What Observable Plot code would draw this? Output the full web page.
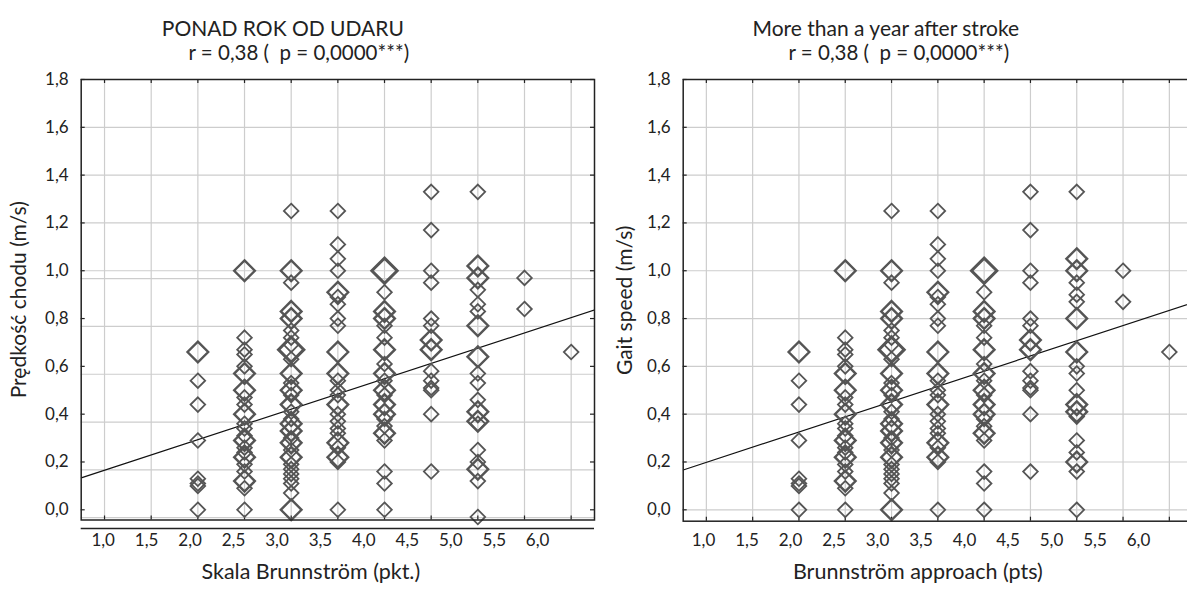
<!DOCTYPE html>
<html>
<head>
<meta charset="utf-8">
<script src="https://cdn.jsdelivr.net/npm/d3@7"></script>
<script src="https://cdn.jsdelivr.net/npm/@observablehq/plot@0.6"></script>
<style>
  html, body { margin: 0; padding: 0; background: #fff; overflow: hidden; }
  #wrap { position: relative; width: 1187px; height: 594px; overflow: hidden; background: #fff; }
  .layer { position: absolute; top: 0; }
</style>
</head>
<body>
<div id="wrap"></div>
<script>
// ---------------- data ----------------
const xTickValues = [1.0, 1.5, 2.0, 2.5, 3.0, 3.5, 4.0, 4.5, 5.0, 5.5, 6.0];
const xTickLabels = ["1,0", "1,5", "2,0", "2,5", "3,0", "3,5", "4,0", "4,5", "5,0", "5,5", "6,0"];
const yTickValues = [0.0, 0.2, 0.4, 0.6, 0.8, 1.0, 1.2, 1.4, 1.6, 1.8];
const yTickLabels = ["0,0", "0,2", "0,4", "0,6", "0,8", "1,0", "1,2", "1,4", "1,6", "1,8"];
const leftGridY = [1.6, 1.4, 1.2, 1.0, 0.967, 0.767, 0.567, 0.367, 0.167, -0.033];
const rightGridY = [1.6, 1.4, 1.2, 1.0, 0.8, 0.6, 0.4, 0.2, 0.0];

const columnX = [2.0, 2.5, 3.0, 3.5, 4.0, 4.5, 5.0, 5.5, 6.0];

// gait speed (m/s) per Brunnström column; repeated values = overlapping patients
const col20 = [0.66, 0.66, 0.54, 0.44, 0.29, 0.13, 0.11, 0.10, 0.0];
const col25 = [1.0, 1.0, 0.72, 0.67, 0.65, 0.60, 0.57, 0.57, 0.50, 0.50, 0.47, 0.44, 0.40, 0.40, 0.36, 0.34, 0.31, 0.29, 0.29, 0.26, 0.24, 0.22, 0.22, 0.19, 0.16, 0.12, 0.12, 0.09, 0.0];
const col30 = [1.25, 1.0, 1.0, 0.95, 0.83, 0.83, 0.80, 0.80, 0.75, 0.72, 0.69, 0.67, 0.67, 0.67, 0.63, 0.57, 0.57, 0.53, 0.50, 0.50, 0.48, 0.44, 0.44, 0.41, 0.38, 0.36, 0.36, 0.33, 0.33, 0.30, 0.28, 0.28, 0.25, 0.22, 0.22, 0.19, 0.17, 0.15, 0.13, 0.11, 0.07, 0.0, 0.0];
const col35 = [1.25, 1.11, 1.05, 1.0, 0.91, 0.91, 0.89, 0.86, 0.80, 0.77, 0.66, 0.66, 0.57, 0.57, 0.54, 0.50, 0.48, 0.44, 0.44, 0.40, 0.37, 0.34, 0.32, 0.28, 0.28, 0.26, 0.22, 0.22, 0.20, 0.0];
const col40 = [1.0, 1.0, 1.0, 0.91, 0.83, 0.83, 0.80, 0.80, 0.77, 0.72, 0.67, 0.67, 0.61, 0.57, 0.57, 0.54, 0.50, 0.50, 0.48, 0.44, 0.44, 0.40, 0.40, 0.38, 0.35, 0.32, 0.32, 0.29, 0.16, 0.11, 0.0];
const col45 = [1.33, 1.17, 1.0, 0.95, 0.80, 0.77, 0.71, 0.71, 0.67, 0.67, 0.58, 0.54, 0.51, 0.50, 0.40, 0.16];
const col50Left = [1.33, 1.02, 1.02, 0.97, 0.97, 0.92, 0.86, 0.83, 0.77, 0.77, 0.64, 0.64, 0.57, 0.53, 0.46, 0.41, 0.41, 0.37, 0.37, 0.36, 0.25, 0.20, 0.17, 0.17, 0.12, -0.03];
const col55Left = [0.97, 0.84];
const col60Left = [0.66];
const col50Right = [1.33, 1.05, 1.05, 1.0, 1.0, 0.95, 0.90, 0.87, 0.80, 0.80, 0.66, 0.66, 0.60, 0.57, 0.50, 0.44, 0.44, 0.41, 0.41, 0.39, 0.29, 0.24, 0.20, 0.20, 0.16, 0.0];
const col55Right = [1.0, 0.87];
const col60Right = [0.66];

const leftColumns = [col20, col25, col30, col35, col40, col45, col50Left, col55Left, col60Left];
const rightColumns = [col20, col25, col30, col35, col40, col45, col50Right, col55Right, col60Right];

// regression line: speed = intercept + slope * score
const leftFit = {intercept: 0.038, slope: 0.1276};
const rightFit = {intercept: 0.071, slope: 0.1272};

const leftTitle = "PONAD ROK OD UDARU";
const rightTitle = "More than a year after stroke";
const statLine = "r = 0,38 (\u00a0 p = 0,0000***)";
const leftYLabel = "Prędkość chodu (m/s)";
const rightYLabel = "Gait speed (m/s)";
const leftXLabel = "Skala Brunnström (pkt.)";
const rightXLabel = "Brunnström approach (pts)";

// ---------------- helpers ----------------
function records(cols) {
  const out = [];
  cols.forEach((vals, i) => {
    const counts = d3.rollup(vals, v => v.length, d => d);
    for (const [y, n] of counts) out.push({x: columnX[i], y, n});
  });
  return out.sort((a, b) => a.n - b.n);
}
const fmtX = d => xTickLabels[xTickValues.indexOf(d)];
const fmtY = d => yTickLabels[yTickValues.findIndex(v => Math.abs(v - d) < 1e-9)];

const FONT = "Lato, 'Open Sans', sans-serif";
const INK = "#222";
const GRID = "#cdcdcd";

function panel(o) {
  const W = 600, H = 594;
  const xDomain = [0.75, 6.25];
  const plotW = W - o.ml - o.mr;
  const plotH = H - o.mt - o.mb;
  const fitPts = xDomain.map(x => ({x, y: o.fit.intercept + o.fit.slope * x}));
  const main = Plot.plot({
    width: W, height: H,
    marginLeft: o.ml, marginRight: o.mr, marginTop: o.mt, marginBottom: o.mb,
    style: {fontFamily: FONT, color: INK, background: "transparent", overflow: "visible"},
    x: {domain: xDomain, axis: null},
    y: {domain: [o.ymin, 1.8], axis: null},
    r: {type: "sqrt", domain: [0, 3], range: [0, 11.4], clamp: true},
    marks: [
      Plot.ruleX(xTickValues, {stroke: GRID, strokeWidth: 1.2}),
      Plot.ruleY(o.gridY, {stroke: GRID, strokeWidth: 1.2}),
      Plot.axisY(yTickValues, {anchor: "left", label: null, tickSize: 0, tickPadding: 12.5, tickFormat: fmtY, fontSize: 17, fill: INK}),
      Plot.tickY(yTickValues, {y: d => d, insetRight: plotW - 4, stroke: INK, strokeWidth: 1.2}),
      Plot.tickY(yTickValues, {y: d => d, insetLeft: plotW - 4, stroke: INK, strokeWidth: 1.2}),
      Plot.tickX(xTickValues, {x: d => d, insetBottom: plotH - 4, stroke: INK, strokeWidth: 1.2}),
      Plot.tickX(xTickValues, {x: d => d, insetTop: plotH - 4, stroke: INK, strokeWidth: 1.2}),
      Plot.line(fitPts, {x: "x", y: "y", stroke: "#111", strokeWidth: 1.2, clip: true}),
      Plot.dot(records(o.columns), {
        x: "x", y: "y", r: "n", symbol: "diamond2",
        stroke: "#555", fill: "none",
        strokeWidth: d => 1.8 + 0.6 * (d.n - 1)
      }),
      Plot.frame({stroke: INK, strokeWidth: 1.5}),
      Plot.text([o.title], {text: d => d, frameAnchor: "top", textAnchor: "middle", dx: o.t1dx, dy: -58, fontSize: 21, fill: INK}),
      Plot.text([statLine], {text: d => d, frameAnchor: "top", textAnchor: "middle", dx: o.t2dx, dy: -34, fontSize: 20.5, fill: INK}),
      Plot.text([o.ylabel], {text: d => d, frameAnchor: "left", textAnchor: "middle", rotate: -90, dx: o.ylabDx, fontSize: 21, fill: INK}),
      Plot.text([o.xlabel], {text: d => d, frameAnchor: "bottom", textAnchor: "middle", dx: o.xlabDx, dy: o.xlabDy, fontSize: 21.5, fill: INK})
    ]
  });
  // tick-label axis (drawn on its own scale, as in the source figure)
  const labels = Plot.plot({
    width: W, height: H,
    marginLeft: o.ml, marginRight: o.mr, marginTop: o.mt, marginBottom: o.lab.mb,
    style: {fontFamily: FONT, color: INK, background: "transparent", overflow: "visible"},
    x: {domain: o.lab.domain, axis: null},
    y: {domain: [0, 1], axis: null},
    marks: [
      Plot.axisX(xTickValues, {anchor: "bottom", label: null, tickSize: 0, tickPadding: o.lab.pad, tickFormat: fmtX, fontSize: 17, fill: INK}),
      o.lab.line ? Plot.ruleY([0], {stroke: INK, strokeWidth: 1.5}) : null
    ]
  });
  const wrap = document.getElementById("wrap");
  for (const svg of [main, labels]) {
    svg.classList.add("layer");
    svg.style.left = o.left + "px";
    wrap.appendChild(svg);
  }
}

panel({
  left: 0, ml: 80.7, mr: 6, mt: 79, mb: 74.5, ymin: -0.0427,
  gridY: leftGridY, columns: leftColumns, fit: leftFit,
  title: leftTitle, ylabel: leftYLabel, xlabel: leftXLabel,
  t1dx: -55, t2dx: -39, ylabDx: -62, xlabDx: -27, xlabDy: 58.5,
  lab: {mb: 66, domain: [0.747, 6.654], pad: 5, line: true}
});
panel({
  left: 600, ml: 82.7, mr: 8, mt: 79, mb: 73.3, ymin: -0.0477,
  gridY: rightGridY, columns: rightColumns, fit: rightFit,
  title: rightTitle, ylabel: rightYLabel, xlabel: rightXLabel,
  t1dx: -52, t2dx: -39, ylabDx: -58, xlabDx: -20, xlabDy: 57.5,
  lab: {mb: 73.3, domain: [0.767, 6.62], pad: 13, line: false}
});
</script>
</body>
</html>
